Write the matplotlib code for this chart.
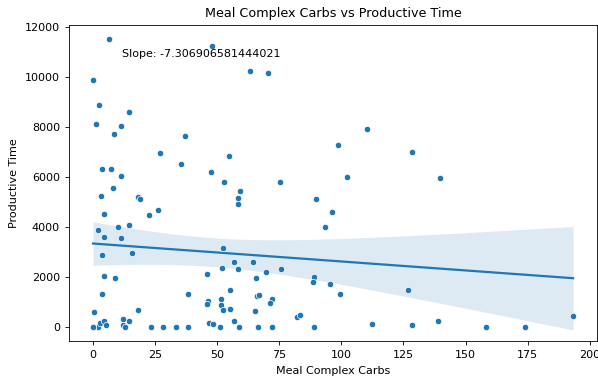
import numpy as np
import matplotlib
matplotlib.use("Agg")
import matplotlib.pyplot as plt

# values (a few points sit on top of each other at the origin)
carbs = [6.3, 0.1, 2.4, 1.3, 14.5, 11.2, 8.3, 37.2, 26.9, 35.3, 3.5, 7.4, 11.2, 8.2, 3.2, 18.3,
         19.1, 4.3, 22.4, 26.0, 2.1, 10.0, 4.3, 11.1, 14.5, 3.5, 15.8, 4.3, 9.0, 3.5, 38.2, 0.5,
         18.3, 0.0, 1.0, 2.2, 2.7, 4.3, 5.3, 12.0, 14.5, 12.2, 12.9, 23.2, 28.0, 33.3, 38.2,
         48.1, 63.2, 70.3, 54.7, 47.7, 52.7, 75.1, 59.2, 58.4, 58.4, 89.8, 52.2, 56.9, 64.3,
         51.9, 58.4, 75.9, 46.1, 65.7, 69.5, 88.9, 88.6, 55.3, 46.3, 45.9, 51.7, 51.7, 52.2,
         55.3, 66.0, 66.8, 72.0, 71.2, 65.1, 82.0, 83.5, 46.6, 48.2, 56.9, 51.2, 58.6, 66.3,
         72.2, 88.8, 110.3, 98.7, 128.6, 102.4, 139.6, 96.1, 93.6, 95.3, 99.3, 126.8, 112.2,
         128.4, 139.1, 158.2, 173.9, 193.3, 0.0, 0.0, 0.0, 0.0, 0.0]
productive_time = [11500, 9880, 8870, 8110, 8600, 8015, 7720, 7615, 6950, 6495, 6295, 6295, 6030,
                   5570, 5230, 5175, 5095, 4520, 4455, 4655, 3880, 3990, 3590, 3560, 4080, 2870,
                   2935, 2015, 1960, 1310, 1310, 575, 680, 0, 0, 0, 160, 240, 80, 320, 240, 55, 0,
                   0, 0, 0, 0, 11230, 10240, 10135, 6840, 6180, 5800, 5800, 5440, 5150, 4920, 5110,
                   3150, 2575, 2575, 2350, 2320, 2320, 2110, 1960, 2190, 1975, 1790, 1480, 1015,
                   910, 1095, 870, 680, 710, 1230, 1280, 1095, 950, 615, 400, 455, 160, 100, 240,
                   0, 0, 0, 0, 0, 7910, 7255, 6975, 6000, 5950, 4600, 3990, 1710, 1310, 1480, 105,
                   80, 215, 0, 0, 430, 0, 0, 0, 0, 0]
slope_text = "Slope: -7.306906581444021"

x = np.array(carbs)
y = np.array(productive_time)

# linear fit with a 95% confidence band
n = len(x)
coef = np.polyfit(x, y, 1)
grid = np.linspace(x.min(), x.max(), 100)
fit = np.polyval(coef, grid)
resid = y - np.polyval(coef, x)
s = np.sqrt(np.sum(resid ** 2) / (n - 2))
sxx = np.sum((x - x.mean()) ** 2)
band = 1.982 * s * np.sqrt(1 / n + (grid - x.mean()) ** 2 / sxx)

fig = plt.figure(figsize=(5.98, 3.80), dpi=100)
ax = fig.add_axes([0.1154, 0.1026, 0.883, 0.8316])
ax.scatter(x, y, s=21, color="#1f77b4", edgecolor="white", linewidth=0.5, zorder=3)
ax.plot(grid, fit, color="#1f77b4", lw=1.6, zorder=2)
ax.fill_between(grid, fit - band, fit + band, color="#1f77b4", alpha=0.15, lw=0, zorder=1)

# axis range from the scatter only, 5% padding
xpad = 0.05 * (x.max() - x.min())
ypad = 0.05 * (y.max() - y.min())
ax.set_xlim(x.min() - xpad, x.max() + xpad)
ax.set_ylim(y.min() - ypad, y.max() + ypad)

ax.text(0.1, 0.9, slope_text, transform=ax.transAxes, fontsize=8)
ax.set_title("Meal Complex Carbs vs Productive Time", fontsize=9.2)
ax.set_xlabel("Meal Complex Carbs", fontsize=8)
ax.set_ylabel("Productive Time", fontsize=8)
ax.set_xticks([0, 25, 50, 75, 100, 125, 150, 175, 200])
ax.set_yticks([0, 2000, 4000, 6000, 8000, 10000, 12000])
ax.tick_params(labelsize=8, width=0.6, length=3)
for sp in ax.spines.values():
    sp.set_linewidth(0.6)

fig.savefig("out.png", dpi=100)
